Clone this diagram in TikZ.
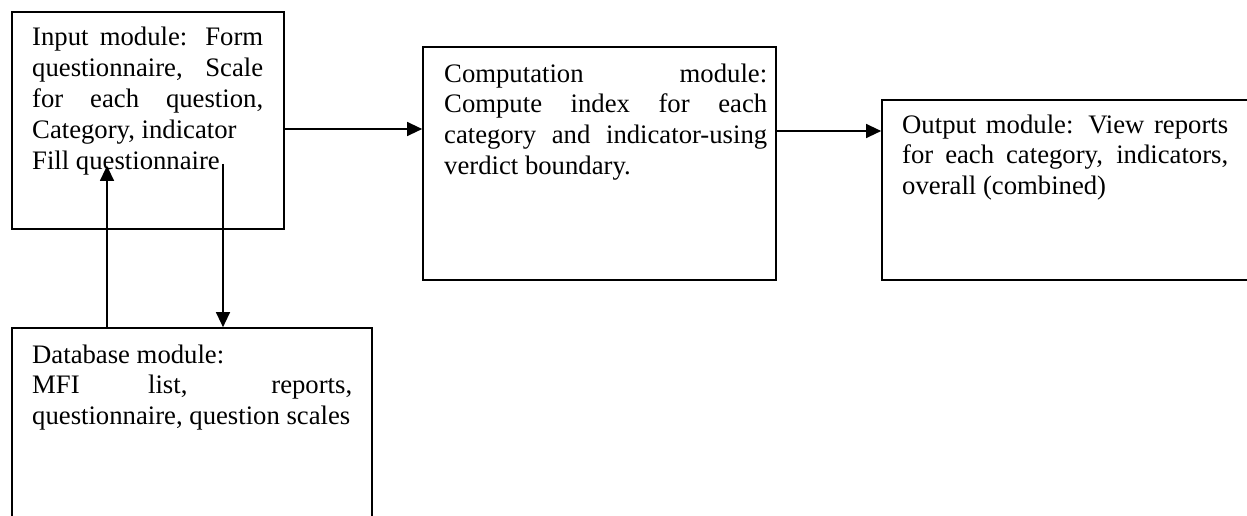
\documentclass[tikz,border=0pt]{standalone}
\usepackage{fontspec}
\setmainfont{Liberation Serif}
\usetikzlibrary{arrows.meta}
\newcommand\jline[2]{\makebox[#1][s]{#2}}
\begin{document}
\begin{tikzpicture}[x=1pt,y=-1pt,
  box/.style={draw=black,line width=1.7pt,inner sep=0pt,minimum width=#1},
  txt/.style={anchor=north west,inner sep=0pt,align=left,font=\fontsize{26.7}{30.8}\selectfont},
  arr/.style={line width=1.3pt,-{Triangle[length=15pt,width=14pt]}}]
\useasboundingbox (0,0) rectangle (1247,515);
\clip (0,0) rectangle (1247,515);
\node[box=272pt,minimum height=217pt] (inp) at (148,120.5) {};
\node[box=353pt,minimum height=233pt] (comp) at (599.5,163.5) {};
\node[box=380pt,minimum height=180pt] (out) at (1072,190) {};
\node[box=360pt,minimum height=212pt] (db) at (192,434) {};
\node[txt] (tinp) at (32,24.1) {\strut\jline{231pt}{Input module: Form}\\
\jline{231pt}{questionnaire, Scale}\\
\jline{231pt}{for each question,}\\
Category, indicator\\
Fill questionnaire};
\node[txt] (tcomp) at (444,60.4) {\strut\jline{323pt}{Computation module:}\\
\jline{323pt}{Compute index for each}\\
\jline{323pt}{category and indicator-using}\\
verdict boundary.};
\node[txt] (tout) at (902,111.4) {\strut\jline{326pt}{Output module: View reports}\\
\jline{326pt}{for each category, indicators,}\\
overall (combined)};
\node[txt] (tdb) at (32,341.4) {\strut Database module:\\
\jline{320pt}{MFI list, reports,}\\
questionnaire, question scales};
\draw[arr] ([yshift=-8.5pt]inp.east) -- ([yshift=34.5pt]comp.west);
\draw[arr] ([yshift=32.5pt]comp.east) -- ([yshift=59pt]out.west);
\draw[arr] ([xshift=-85pt]db.north) -- ([xshift=-41pt,yshift=64pt]inp.south);
\draw[arr] ([xshift=75pt,yshift=66pt]inp.south) -- ([xshift=31pt]db.north);
\end{tikzpicture}
\end{document}
